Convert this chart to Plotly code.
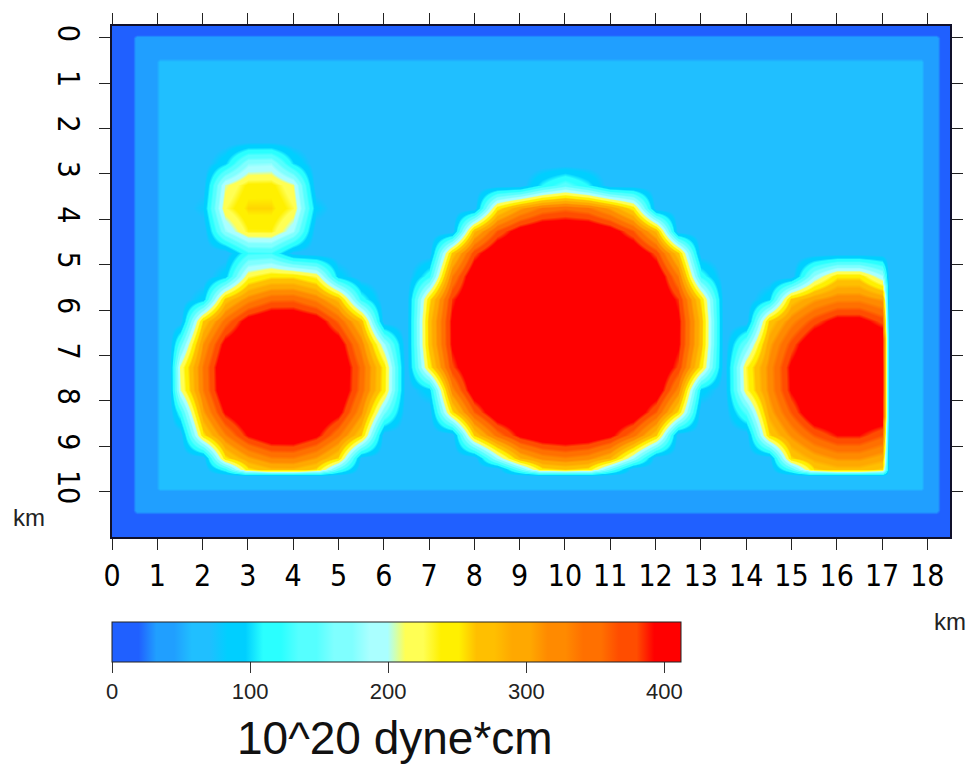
import plotly.graph_objects as go

# ---- data (moment, 10^20 dyne*cm) ----
x_km = [0.0, 0.45, 0.55, 0.95, 1.05, 1.25,
        1.5, 2.0, 2.5, 3.0, 3.5, 4.0, 4.5, 5.0, 5.5, 6.0, 6.5, 7.0, 7.5, 8.0, 8.5, 9.0,
        9.5, 10.0, 10.5, 11.0, 11.5, 12.0, 12.5, 13.0, 13.5, 14.0, 14.5, 15.0, 15.5,
        16.0, 16.5, 17.0,
        17.15, 17.5, 17.85, 17.95, 18.2, 18.3, 18.5]
y_km = [-0.25, -0.09, 0.01, 0.43, 0.53, 1.25, 1.75, 2.25, 2.75, 3.25, 3.75, 4.25, 4.75,
        5.25, 5.75, 6.25, 6.75, 7.25, 7.75, 8.25, 8.75, 9.25, 9.5, 9.65, 9.91, 10.01,
        10.41, 10.51, 10.75, 11.05]

left_edge = [15, 15, 40, 40, 60, 60]
right_edge = [60, 60, 60, 40, 40, 15, 15]
dark_row = [15] * 45
medium_row = [15, 15] + [40] * 41 + [15, 15]

m_bg = [60] * 32
m_275 = [60, 60, 95, 175, 178, 100] + [60] * 26
m_325 = [60, 65, 205, 242, 243, 210, 60, 60, 60, 60, 60, 60, 60, 60, 60, 60, 108, 143, 108] + [60] * 13
m_375 = [60, 80, 225, 258, 258, 228, 85, 60, 60, 60, 60, 60, 60, 60, 246, 304, 341, 353, 341,
         304, 246] + [60] * 11
m_425 = [60, 60, 178, 235, 236, 185, 60, 60, 60, 60, 60, 60, 60, 278, 364, 411, 430, 431, 430,
         411, 364, 278] + [60] * 10
m_475 = [60, 60, 60, 125, 128, 68, 60, 60, 60, 60, 60, 60, 265, 375, 430, 433, 434, 435, 434,
         433, 430, 375, 265] + [60] * 9
m_525 = [60, 60, 90, 225, 250, 250, 225, 90, 60, 60, 60, 120, 335, 424, 433, 436, 439, 439, 439,
         436, 433, 424, 335, 120, 60, 60, 60, 60, 181, 249, 249, 185]
m_575 = [60, 88, 266, 322, 353, 355, 327, 274, 119, 60, 60, 250, 384, 432, 436, 439, 442, 444,
         442, 439, 436, 432, 384, 250, 60, 60, 94, 265, 304, 326, 327, 306]
m_625 = [60, 262, 347, 409, 431, 431, 414, 356, 273, 60, 60, 271, 398, 432, 437, 441, 445, 448,
         445, 441, 437, 432, 398, 271, 60, 60, 263, 324, 373, 406, 406, 375]
m_675 = [143, 312, 404, 434, 438, 439, 435, 413, 324, 184, 60, 269, 397, 432, 437, 441, 445, 447,
         445, 441, 437, 432, 397, 269, 60, 157, 300, 371, 431, 436, 436, 431]
m_725 = [212, 339, 430, 438, 445, 445, 438, 431, 352, 244, 60, 243, 378, 431, 435, 439, 442, 443,
         442, 439, 435, 431, 378, 243, 60, 230, 320, 399, 436, 444, 444, 436]
m_775 = [204, 336, 428, 437, 444, 444, 438, 431, 348, 242, 60, 91, 325, 418, 433, 436, 438, 439,
         438, 436, 433, 418, 325, 91, 60, 224, 318, 396, 435, 443, 443, 436]
m_825 = [120, 304, 396, 433, 437, 437, 433, 404, 316, 161, 60, 60, 252, 361, 425, 432, 434, 434,
         434, 432, 425, 361, 252, 60, 60, 138, 295, 364, 430, 435, 435, 430]
m_875 = [60, 250, 332, 395, 425, 427, 399, 340, 260, 60, 60, 60, 60, 262, 346, 400, 423, 430,
         423, 400, 346, 262, 60, 60, 60, 60, 256, 315, 363, 392, 392, 364]
m_925 = [60, 60, 249, 302, 332, 334, 307, 256, 67, 60, 60, 60, 60, 60, 182, 283, 319, 331,
         319, 283, 182, 60, 60, 60, 60, 60, 60, 255, 293, 314, 314, 294]
m_950 = [60, 60, 120, 252, 279, 280, 256, 142, 60, 60, 60, 60, 60, 60, 60, 152, 250, 262,
         250, 152, 60, 60, 60, 60, 60, 60, 60, 135, 257, 275, 275, 257]

# rows at y = 0.53, 1.25, 1.75, 2.25, 2.75 ... 9.25, 9.5, 9.65, 9.91
interior_rows = [m_bg, m_bg, m_bg, m_bg, m_275, m_325, m_375, m_425, m_475, m_525, m_575,
                 m_625, m_675, m_725, m_775, m_825, m_875, m_925, m_950, m_bg, m_bg]

moment = ([dark_row, dark_row, medium_row, medium_row]
          + [left_edge + m + right_edge for m in interior_rows]
          + [medium_row, medium_row, dark_row, dark_row, dark_row])

x_tick_vals = list(range(0, 19))
y_tick_vals = list(range(0, 11))
cbar_tick_vals = [0, 100, 200, 300, 400]
z_min, z_max = 0, 412

# GMT "no_green" palette, 16 bands
cpt_colors = [
    (32, 96, 255), (32, 159, 255), (32, 191, 255), (0, 207, 255),
    (42, 255, 255), (85, 255, 255), (127, 255, 255), (170, 255, 255),
    (255, 255, 84), (255, 240, 0), (255, 191, 0), (255, 168, 0),
    (255, 138, 0), (255, 112, 0), (255, 77, 0), (255, 0, 0),
]

# ---- styling ----
n = len(cpt_colors)
soft = 0.25
colorscale = []
for i, c in enumerate(cpt_colors):
    col = "rgb(%d,%d,%d)" % c
    lo = 0.0 if i == 0 else (i + soft) / n
    hi = 1.0 if i == n - 1 else (i + 1 - soft) / n
    colorscale.append([lo, col])
    colorscale.append([hi, col])

narrow = "Liberation Sans Narrow, Arial Narrow, DejaVu Sans Condensed, sans-serif"
sans = "Liberation Sans, Arial, Helvetica, sans-serif"

W, H = 975, 769
L, R, T, B = 112, 22, 26, 232
plot_w = W - L - R
plot_h = H - T - B


def px_x(p):
    return (p - L) / plot_w


def px_y(p):
    return (H - B - p) / plot_h


fig = go.Figure(go.Heatmap(
    x=x_km, y=y_km, z=moment,
    zmin=z_min, zmax=z_max, zsmooth="best",
    colorscale=colorscale,
    colorbar=dict(
        orientation="h",
        x=0, xanchor="left",
        y=px_y(622), yanchor="top",
        len=569, lenmode="pixels",
        thickness=40, thicknessmode="pixels",
        xpad=0, ypad=0,
        outlinewidth=1, outlinecolor="#222222",
        tickvals=cbar_tick_vals,
        ticks="outside", ticklen=11, tickwidth=1, tickcolor="#333333",
        tickfont=dict(family=sans, size=22, color="#222222"),
        borderwidth=0,
    ),
    hoverinfo="skip",
))

axis_common = dict(
    showline=True, linewidth=2, linecolor="#10102a",
    mirror="ticks", ticks="outside", ticklen=11, tickwidth=1, tickcolor="#222222",
    showgrid=False, zeroline=False,
    tickfont=dict(family=narrow, size=30, color="#000000"),
)

fig.update_layout(
    width=W, height=H,
    margin=dict(l=L, r=R, t=T, b=B),
    paper_bgcolor="white", plot_bgcolor="white",
    xaxis=dict(range=[0, 18.5], tickvals=x_tick_vals, ticklabelstandoff=0, **axis_common),
    yaxis=dict(range=[11.0, -0.26], tickvals=y_tick_vals, tickangle=90,
               ticklabelstandoff=5, **axis_common),
    annotations=[
        dict(text="km", x=px_x(29), y=px_y(517),
             xref="paper", yref="paper", xanchor="center", yanchor="middle",
             showarrow=False, font=dict(family=sans, size=24, color="#222222")),
        dict(text="km", x=px_x(953), y=px_y(621),
             xref="paper", yref="paper", xanchor="center", yanchor="middle",
             showarrow=False, font=dict(family=sans, size=24, color="#222222")),
        dict(text="10^20 dyne*cm", x=px_x(396), y=px_y(738),
             xref="paper", yref="paper", xanchor="center", yanchor="middle",
             showarrow=False, font=dict(family=sans, size=46, color="#111111")),
    ],
)

fig.write_html("out.html")
